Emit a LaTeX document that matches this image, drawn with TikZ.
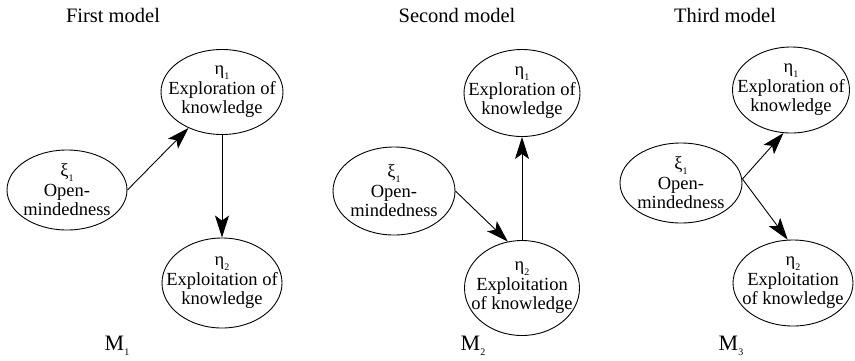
\documentclass[tikz,border=0pt]{standalone}
\usepackage{fontspec}
\setmainfont{Liberation Serif}
\usetikzlibrary{shapes.geometric,arrows.meta}
\newcommand{\sbs}[1]{\raisebox{-0.25em}[0pt][0pt]{\fontsize{10}{10}\selectfont #1}}
\tikzset{
  ell/.style={draw, line width=0.9pt, ellipse, inner sep=0pt},
  txt/.style={align=center, inner sep=0pt, font=\fontsize{18.5}{19.5}\selectfont},
  ttl/.style={inner sep=0pt, anchor=base, font=\fontsize{20.5}{22}\selectfont},
  mlab/.style={inner sep=0pt, anchor=base, font=\fontsize{22}{24}\selectfont},
  arr/.style={line width=0.9pt, -{Stealth[length=22pt,width=14pt,inset=5pt]}}
}
\begin{document}
\begin{tikzpicture}[x=1pt,y=-1pt]
\useasboundingbox (0,0) rectangle (855,360);
% titles
\node[ttl] (t1) at (113,22) {First model};
\node[ttl] (t2) at (457,22) {Second model};
\node[ttl] (t3) at (725,22) {Third model};
% model 1
\node[ell, minimum width=122pt, minimum height=85pt] (e1) at (222,92) {};
\node[txt] (e1t) at (e1) {η\sbs{1}\\Exploration of\\knowledge};
\node[ell, minimum width=120pt, minimum height=80pt] (x1) at (67,190) {};
\node[txt] (x1t) at (x1) {ξ\sbs{1}\\Open-\\mindedness};
\node[ell, minimum width=120pt, minimum height=90pt] (f1) at (222,283) {};
\node[txt] (f1t) at (f1) {η\sbs{2}\\Exploitation of\\knowledge};
\draw[arr] (x1.east) -- (e1.227);
\draw[arr] (e1.south) -- (f1.north);
\node[mlab] (m1) at (117,350) {M\sbs{1}};
% model 2
\node[ell, minimum width=116pt, minimum height=87pt] (e2) at (522,93) {};
\node[txt] (e2t) at (e2) {η\sbs{1}\\Exploration of\\knowledge};
\node[ell, minimum width=122pt, minimum height=88pt] (x2) at (394,191) {};
\node[txt] (x2t) at (x2) {ξ\sbs{1}\\Open-\\mindedness};
\node[ell, minimum width=115pt, minimum height=95pt] (f2) at (522,288) {};
\node[txt] (f2t) at (f2) {η\sbs{2}\\Exploitation\\of knowledge};
\draw[arr] (x2.east) -- (f2.107);
\draw[arr] (f2.north) -- (e2.south);
\node[mlab] (m2) at (473,350) {M\sbs{2}};
% model 3
\node[ell, minimum width=117pt, minimum height=86pt] (e3) at (791,90) {};
\node[txt] (e3t) at (e3) {η\sbs{1}\\Exploration of\\knowledge};
\node[ell, minimum width=122pt, minimum height=80pt] (x3) at (681,183) {};
\node[txt] (x3t) at (x3) {ξ\sbs{1}\\Open-\\mindedness};
\node[ell, minimum width=120pt, minimum height=86pt] (f3) at (793,283) {};
\node[txt] (f3t) at (f3) {η\sbs{2}\\Exploitation\\of knowledge};
\coordinate (o3) at ([yshift=4pt]x3.east);
\draw[arr] (o3) -- (e3.260);
\draw[arr] (o3) -- (f3.97);
\node[mlab] (m3) at (731,350) {M\sbs{3}};
\end{tikzpicture}
\end{document}
